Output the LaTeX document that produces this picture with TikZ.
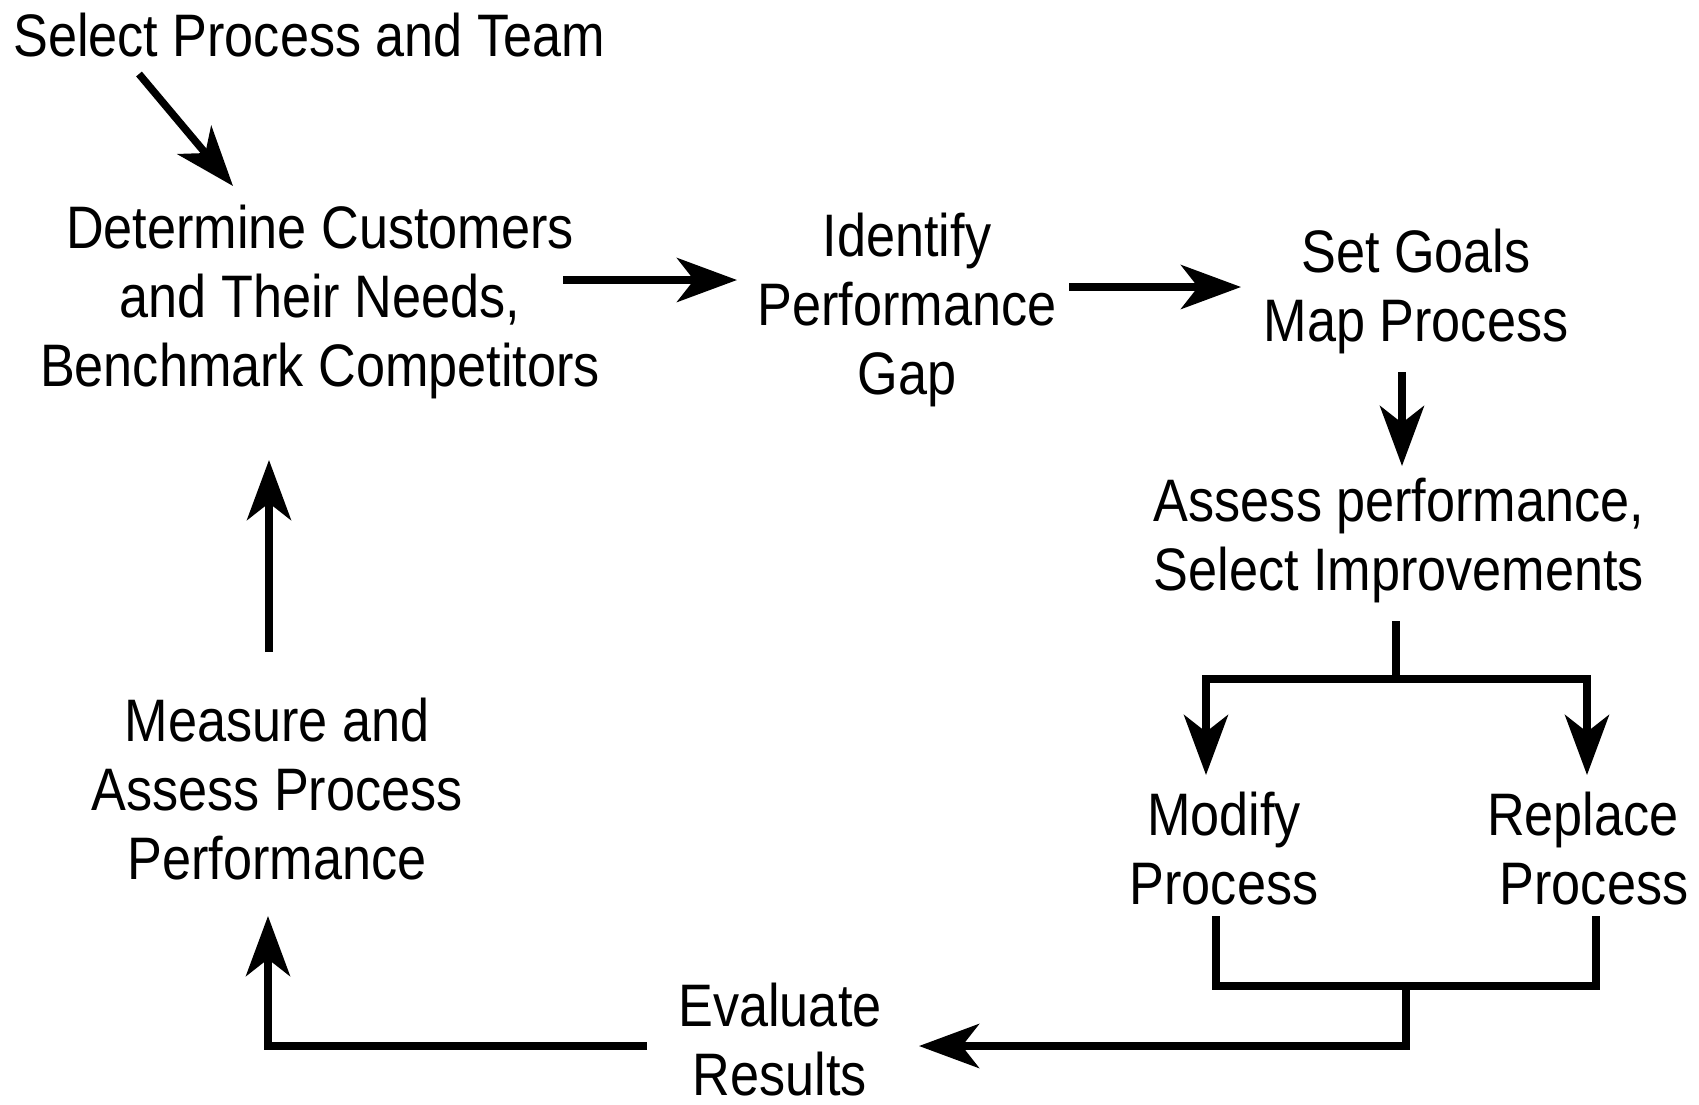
\documentclass[tikz,border=0pt]{standalone}
\usepackage{fontspec}
\setmainfont{Liberation Sans}[FakeStretch=0.87]
\usetikzlibrary{arrows.meta}
\begin{document}
\begin{tikzpicture}[x=1pt,y=-1pt,
  txt/.style={font=\fontsize{60}{69}\selectfont, align=center, inner sep=0pt},
  link/.style={line width=7.5pt},
  arr/.style={link, -{Stealth[length=60pt,width=44pt,inset=17pt]}}]
\useasboundingbox (0,0) rectangle (1699,1104);

% steps of the cycle
\node[txt, anchor=base west] (sel) at (13,56) {Select Process and Team};
\node[txt] (det) at (320,302) {Determine Customers\\and Their Needs,\\Benchmark Competitors};
\node[txt] (gap) at (907,310) {Identify\\Performance\\Gap};
\node[txt] (goals) at (1416,291) {Set Goals\\Map Process};
\node[txt] (assess) at (1399,541) {Assess performance,\\Select Improvements};
\node[txt] (modify) at (1224,849) {Modify\\Process};
\node[txt] (replace) at (1583,849) {Replace\\\hspace*{22pt}Process};
\node[txt] (eval) at (780,1040) {Evaluate\\Results};
\node[txt] (meas) at (277,789) {Measure and\\Assess Process\\Performance};

% junctions of the branching and merging lines
\coordinate (split) at (1396,679);
\coordinate (merge) at (1406,986);
\coordinate (corner) at (268,1046);

% straight arrows
\draw[arr] (139,74) -- (233,186);
\draw[arr] (563,280) -- (737,280);
\draw[arr] (1069,287) -- (1241,287);
\draw[arr] (1402,372) -- (1402,466);
\draw[arr] (269,652) -- (269,460);

% branch to the two alternatives
\draw[link] (1396,621) -- (split);
\draw[arr] (split) -| (1206,775);
\draw[arr] (split) -| (1587,775);

% alternatives merge into evaluation
\draw[link] (1216,916) |- (merge) -| (1596,916);
\draw[arr] (merge) |- (919,1046);

% evaluation feeds measurement
\draw[arr] (647,1046) -- (corner) -- (268,916);
\end{tikzpicture}
\end{document}
